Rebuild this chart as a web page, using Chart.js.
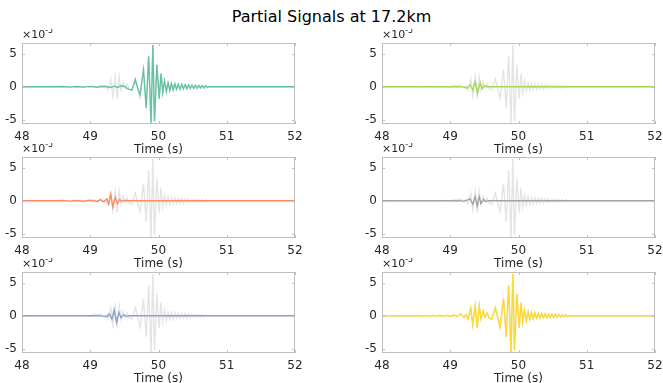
<!DOCTYPE html>
<html lang="en">
<head>
<meta charset="UTF-8">
<title>Partial Signals at 17.2km</title>
<script src="https://cdn.jsdelivr.net/npm/chart.js"></script>
<style>
    body {
        margin: 0;
        background: #fff;
        width: 663px;
        height: 383px;
        overflow: hidden;
        position: relative;
        font-family: 'DejaVu Sans', sans-serif;
    }

    #titulo {
        position: absolute;
        left: 0;
        top: 7px;
        width: 663px;
        text-align: center;
        font-size: 16px;
        line-height: 19px;
        color: #000;
    }

    .painel {
        position: absolute;
    }
</style>
</head>

<body>
<div id="titulo">Partial Signals at 17.2km</div>
<div id="paineis"></div>

<script>
    // eixos (amplitudes em unidades de 1e-5)
    const xTicks = [48, 49, 50, 51, 52];
    const yTicks = [-5, 0, 5];

    // sinal total (fundo cinza e painel amarelo)
    const tempoTotal = [48.00, 48.50, 48.55, 48.60, 48.65, 48.70, 48.75, 48.80, 48.85, 48.90, 48.95, 49.00, 49.05, 49.10,
        49.15, 49.20, 49.23, 49.26, 49.30, 49.33, 49.366, 49.395, 49.424, 49.45, 49.48, 49.51, 49.54, 49.57, 49.61,
        49.66, 49.70, 49.73, 49.78, 49.82, 49.856, 49.89, 49.917, 49.941, 49.976, 50.01, 50.037, 50.062, 50.088,
        50.115, 50.14, 50.165, 50.19, 50.215, 50.24, 50.265, 50.29, 50.315, 50.34, 50.365, 50.39, 50.415, 50.44,
        50.465, 50.49, 50.515, 50.54, 50.565, 50.59, 50.615, 50.64, 50.665, 50.69, 50.715, 50.74, 52.00];
    const ampTotal = [0, 0, 0.05, -0.05, 0.06, -0.06, 0.07, -0.07, 0.08, -0.08, 0.1, -0.1, 0.12, -0.1,
        0.3, -0.2, 0.2, -0.5, 1.2, -1.4, 1.5, -1.8, 1.5, -0.5, 0.7, -0.2, 0.4, -0.3, -0.5,
        1.2, -0.4, -1.7, 2.6, -3.2, 4.6, -5.6, 6.3, -5.2, 3.3, -1.8, 2.0, -0.9, 0.9,
        -0.7, 0.6, -0.55, 0.5, -0.45, 0.45, -0.4, 0.4, -0.35, 0.35, -0.3, 0.3, -0.3, 0.28,
        -0.25, 0.25, -0.22, 0.22, -0.2, 0.2, -0.18, 0.18, -0.15, 0.15, -0.1, 0, 0];

    // parcela principal (verde)
    const tempoVerde = [48.00, 48.50, 48.60, 48.70, 48.80, 48.90, 49.00, 49.10, 49.20, 49.30, 49.35, 49.40, 49.45,
        49.50, 49.55, 49.61, 49.66, 49.70, 49.73, 49.78, 49.82, 49.856, 49.89, 49.917, 49.941, 49.976, 50.01,
        50.037, 50.062, 50.088, 50.115, 50.14, 50.165, 50.19, 50.215, 50.24, 50.265, 50.29, 50.315, 50.34, 50.365,
        50.39, 50.415, 50.44, 50.465, 50.49, 50.515, 50.54, 50.565, 50.59, 50.615, 50.64, 50.665, 50.69, 50.715,
        50.74, 52.00];
    const ampVerde = [0, 0, 0.04, -0.04, 0.05, -0.05, 0.06, -0.06, 0.08, -0.1, 0.1, -0.1, 0.15,
        0.05, -0.3, -0.5, 1.1, -0.4, -1.2, 2.6, -3.2, 4.6, -5.6, 6.3, -5.2, 3.3, -1.8,
        2.0, -0.9, 0.9, -0.7, 0.6, -0.55, 0.5, -0.45, 0.45, -0.4, 0.4, -0.35, 0.35, -0.3,
        0.3, -0.3, 0.28, -0.25, 0.25, -0.22, 0.22, -0.2, 0.2, -0.18, 0.18, -0.15, 0.15, -0.1,
        0, 0];

    // parcelas pequenas
    const tempoLaranja = [48.00, 48.50, 48.60, 48.70, 48.80, 48.90, 49.00, 49.10, 49.15, 49.20, 49.244, 49.27, 49.30,
        49.33, 49.366, 49.40, 49.43, 49.46, 49.50, 49.55, 52.00];
    const ampLaranja = [0, 0, 0.04, -0.04, 0.05, -0.06, 0.08, -0.1, 0.15, -0.15, 0.3, -0.5, 1.0,
        -0.9, 0.5, -0.4, 0.2, -0.1, 0.05, 0, 0];

    const tempoLima = [48.00, 49.00, 49.10, 49.20, 49.244, 49.29, 49.33, 49.366, 49.40, 49.44, 49.468, 49.50, 49.54, 52.00];
    const ampLima = [0, 0, 0.05, -0.05, -0.2, 0.3, -0.5, 0.8, -0.9, 0.6, -0.3, 0.15, 0, 0];

    const tempoCinza = [48.00, 49.00, 49.10, 49.20, 49.25, 49.29, 49.33, 49.366, 49.395, 49.424, 49.45, 49.49, 49.52, 49.56, 52.00];
    const ampCinza = [0, 0, 0.05, -0.05, 0.1, 0.3, -0.5, 0.6, -0.8, 0.6, -0.4, 0.2, -0.1, 0, 0];

    const tempoAzul = [48.00, 49.00, 49.10, 49.20, 49.244, 49.28, 49.317, 49.35, 49.385, 49.42, 49.45, 49.49, 49.53, 49.57, 52.00];
    const ampAzul = [0, 0, 0.05, -0.05, -0.15, 0.3, -0.5, 0.9, -1.0, 0.5, -0.3, 0.15, -0.1, 0, 0];

    const paineis = [
        { cor: '#66c2a5', t: tempoVerde, a: ampVerde, col: 0, lin: 0 },
        { cor: '#a6d854', t: tempoLima, a: ampLima, col: 1, lin: 0 },
        { cor: '#fc8d62', t: tempoLaranja, a: ampLaranja, col: 0, lin: 1 },
        { cor: '#a3a3a3', t: tempoCinza, a: ampCinza, col: 1, lin: 1 },
        { cor: '#8da0cb', t: tempoAzul, a: ampAzul, col: 0, lin: 2 },
        { cor: '#ffd92f', t: tempoTotal, a: ampTotal, col: 1, lin: 2 }
    ];

    const esquerdas = [22, 382];
    const topos = [43, 157, 272];

    Chart.defaults.font.family = "'DejaVu Sans', sans-serif";
    Chart.defaults.font.size = 12;
    Chart.defaults.color = '#262626';

    function pontos(t, a) {
        return t.map((v, i) => ({ x: v, y: a[i] }));
    }

    // caixa e marcas internas no estilo do matlab
    const moldura = {
        id: 'moldura',
        afterDatasetsDraw(chart) {
            const { ctx, chartArea: a, scales: { x, y } } = chart;
            ctx.save();
            ctx.strokeStyle = '#bfbfbf';
            ctx.lineWidth = 1;
            ctx.beginPath();
            xTicks.forEach(v => {
                const px = Math.round(x.getPixelForValue(v)) + 0.5;
                ctx.moveTo(px, a.top);
                ctx.lineTo(px, a.top + 3);
                ctx.moveTo(px, a.bottom);
                ctx.lineTo(px, a.bottom - 3);
            });
            yTicks.forEach(v => {
                const py = Math.round(y.getPixelForValue(v)) + 0.5;
                ctx.moveTo(a.left, py);
                ctx.lineTo(a.left + 3, py);
                ctx.moveTo(a.right, py);
                ctx.lineTo(a.right - 3, py);
            });
            ctx.stroke();
            ctx.strokeRect(a.left + 0.5, a.top + 0.5, a.width - 1, a.height - 1);

            ctx.fillStyle = '#262626';
            ctx.font = "11px 'DejaVu Sans'";
            ctx.textBaseline = 'alphabetic';
            ctx.fillText('×10', a.left, a.top - 5);
            const w = ctx.measureText('×10').width;
            ctx.font = "8px 'DejaVu Sans'";
            ctx.fillText('-5', a.left + w, a.top - 10);
            ctx.restore();
        }
    };

    const caixa = document.getElementById('paineis');

    paineis.forEach((p, i) => {
        const div = document.createElement('div');
        div.className = 'painel';
        div.style.left = (esquerdas[p.col] - 22) + 'px';
        div.style.top = (topos[p.lin] - 14) + 'px';
        const canvas = document.createElement('canvas');
        canvas.width = 309;
        canvas.height = 135;
        div.appendChild(canvas);
        caixa.appendChild(div);

        new Chart(canvas, {
            type: 'line',
            data: {
                datasets: [{
                    data: pontos(p.t, p.a),
                    borderColor: p.cor,
                    borderWidth: 1.4,
                    pointRadius: 0,
                    tension: 0
                }, {
                    data: pontos(tempoTotal, ampTotal),
                    borderColor: '#e4e4e4',
                    borderWidth: 1.4,
                    pointRadius: 0,
                    tension: 0
                }]
            },
            options: {
                responsive: false,
                animation: false,
                events: [],
                layout: { padding: { top: 14, right: 14, left: 0, bottom: 0 } },
                plugins: { legend: { display: false }, tooltip: { enabled: false } },
                scales: {
                    x: {
                        type: 'linear',
                        min: 48,
                        max: 52,
                        grid: { display: false, drawTicks: false },
                        border: { display: false },
                        afterBuildTicks: s => { s.ticks = xTicks.map(v => ({ value: v })); },
                        afterFit: s => { s.height = 40; },
                        ticks: { padding: 6, maxRotation: 0 },
                        title: { display: true, text: 'Time (s)', padding: { top: 0, bottom: 7 } }
                    },
                    y: {
                        min: -5.6,
                        max: 6.6,
                        grid: { display: false, drawTicks: false },
                        border: { display: false },
                        afterBuildTicks: s => { s.ticks = yTicks.map(v => ({ value: v })); },
                        afterFit: s => { s.width = 22; },
                        ticks: { padding: 5 }
                    }
                }
            },
            plugins: [moldura]
        });
    });
</script>
</body>
</html>
